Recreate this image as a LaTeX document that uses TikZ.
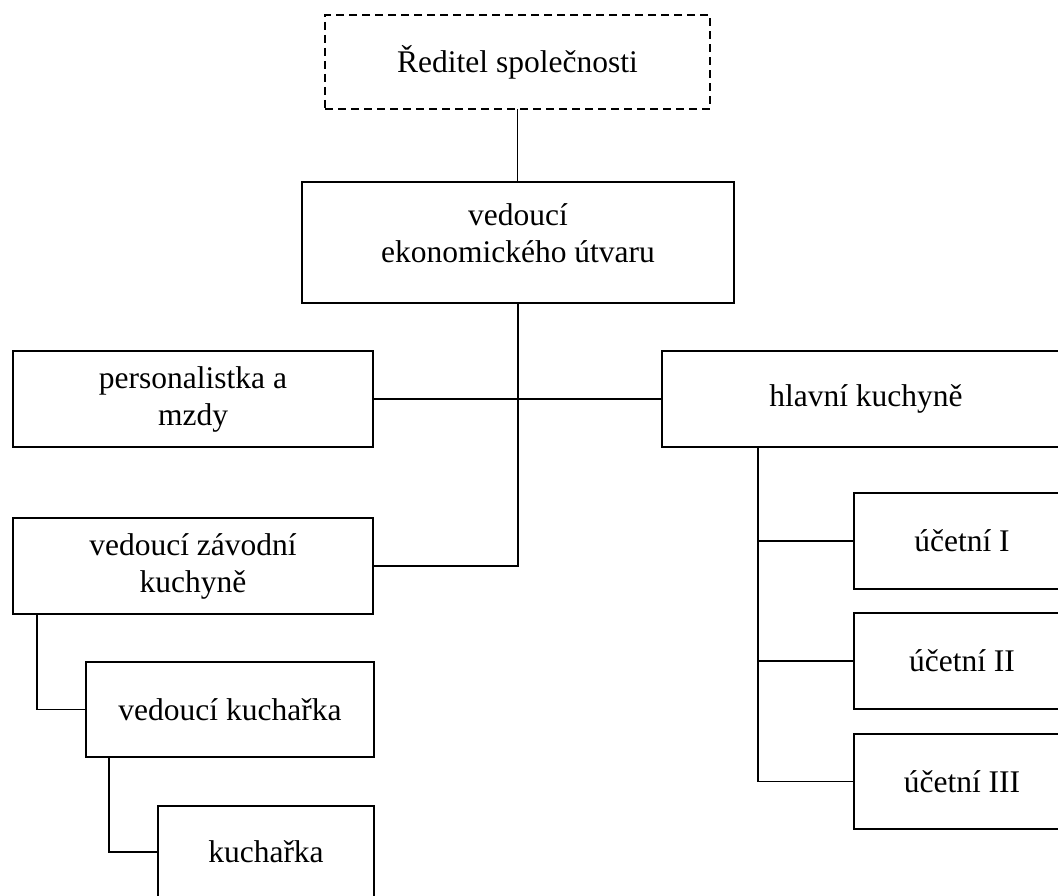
\documentclass[tikz,border=0pt]{standalone}
\usepackage{fontspec}
\setmainfont{Liberation Serif}
\begin{document}
\begin{tikzpicture}[x=1pt,y=-1pt,
  box/.style={draw=black, line width=1.5pt, inner sep=0pt, outer sep=0pt,
    align=center, font=\fontsize{31.5}{37}\selectfont},
  dashbox/.style={box, dash pattern=on 8pt off 5pt},
  link/.style={draw=black, line width=1.5pt}]
\useasboundingbox (0,0) rectangle (1058,896);

% top of the hierarchy
\node[dashbox, minimum width=385pt, minimum height=94pt] (dir) at (517.5,62) {Ředitel společnosti};
\node[box, minimum width=432pt, minimum height=121pt,
  label={[name=ekonT, align=center, yshift=9pt, font=\fontsize{31.5}{37}\selectfont]center:vedoucí\\ekonomického útvaru}]
  (ekon) at (518,242.5) {};

% second level
\node[box, minimum width=360pt, minimum height=96pt] (pers) at (193,399) {personalistka a\\mzdy};
\node[box, minimum width=408pt, minimum height=96pt] (hlav) at (866,399) {hlavní kuchyně};
\node[box, minimum width=360pt, minimum height=96pt] (zav) at (193,566) {vedoucí závodní\\kuchyně};

% kitchen branch
\node[box, minimum width=288pt, minimum height=95pt] (vkuch) at (230,709.5) {vedoucí kuchařka};
\node[box, minimum width=216pt, minimum height=92pt] (kuch) at (266,852) {kuchařka};

% accounting branch
\node[box, minimum width=216pt, minimum height=96pt] (uc1) at (962,541) {účetní I};
\node[box, minimum width=216pt, minimum height=96pt] (uc2) at (962,661) {účetní II};
\node[box, minimum width=216pt, minimum height=95pt] (uc3) at (962,781.5) {účetní III};

% branch points on the lower edges
\coordinate (hb) at ([xshift=96pt]hlav.south west);
\coordinate (zb) at ([xshift=24pt]zav.south west);
\coordinate (vb) at ([xshift=23pt]vkuch.south west);

% connectors
\draw[link] (dir.south) -- (dir.south |- ekon.north);
\draw[link] (ekon.south) |- (zav.east);
\draw[link] (pers.east) -- (hlav.west);
\draw[link] (hb) |- (uc3.west);
\draw[link] (hb |- uc1.west) -- (uc1.west);
\draw[link] (hb |- uc2.west) -- (uc2.west);
\draw[link] (zb) |- (vkuch.west);
\draw[link] (vb) |- (kuch.west);
\end{tikzpicture}
\end{document}
